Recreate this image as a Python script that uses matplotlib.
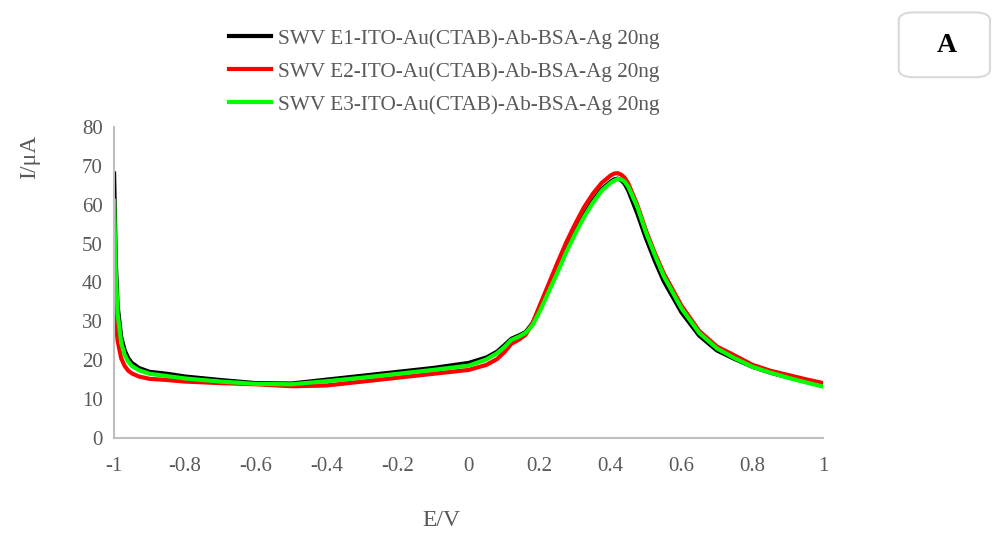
import matplotlib.pyplot as plt
import numpy as np
from matplotlib.patches import FancyBboxPatch

plt.rcParams['font.family'] = ['Liberation Serif', 'DejaVu Serif']

# potential (V), shared by the three scans
e_v = [-1.0, -0.995, -0.99, -0.98, -0.97, -0.96, -0.95, -0.93, -0.9, -0.85, -0.8, -0.7, -0.6, -0.5, -0.4, -0.3,
       -0.2, -0.1, 0.0, 0.05, 0.08, 0.1, 0.12, 0.14, 0.16, 0.18, 0.2, 0.225, 0.25, 0.275, 0.3, 0.325, 0.35,
       0.375, 0.4, 0.41, 0.42, 0.43, 0.44, 0.45, 0.475, 0.5, 0.525, 0.55, 0.6, 0.65, 0.7, 0.75, 0.8, 0.85,
       0.9, 0.95, 1.0]

# currents (uA)
i_e1 = [68, 45, 34, 26, 22.5, 20.5, 19.3, 18, 17, 16.5, 15.8, 14.9, 14.1, 14.0, 15.0, 16.0,
        17.0, 18.0, 19.3, 20.7, 22.2, 23.8, 25.5, 26.3, 27.2, 29.5, 33.5, 38.5, 43.5, 48.5, 53, 57.3, 61,
        64, 65.9, 66.5, 66.7, 66.3, 65.3, 63.6, 57.8, 51.3, 45.5, 40.3, 32.3, 26.3, 22.5, 20.3, 18.3, 16.8,
        15.6, 14.5, 13.5]
i_e2 = [36, 30, 25, 20.5, 18.5, 17.3, 16.6, 15.8, 15.2, 14.9, 14.5, 14.1, 13.8, 13.3, 13.5, 14.5,
        15.5, 16.5, 17.5, 18.8, 20.3, 22, 24.2, 25.2, 26.5, 29.5, 34, 39.5, 45, 50.3, 55, 59.3, 62.8,
        65.6, 67.5, 68, 68.1, 67.7, 66.9, 65.4, 60, 53.3, 47.5, 42.3, 34, 27.5, 23.5, 21.2, 18.8, 17.3,
        16.2, 15.1, 14.1]
i_e3 = [61, 42, 32, 24.5, 21.3, 19.6, 18.5, 17.4, 16.5, 15.9, 15.3, 14.5, 13.9, 13.8, 14.6, 15.5,
        16.5, 17.5, 18.6, 20.2, 21.8, 23.3, 25.2, 26.0, 27.0, 29.0, 32.5, 37.5, 42.5, 47.8, 52.5, 56.8, 60.5,
        63.6, 65.6, 66.2, 66.6, 66.5, 65.9, 64.6, 59.5, 52.8, 47, 41.6, 33.3, 27, 23, 20.5, 18.3, 16.8,
        15.5, 14.3, 13.2]

labels = ["SWV E1-ITO-Au(CTAB)-Ab-BSA-Ag 20ng",
          "SWV E2-ITO-Au(CTAB)-Ab-BSA-Ag 20ng",
          "SWV E3-ITO-Au(CTAB)-Ab-BSA-Ag 20ng"]

fig = plt.figure(figsize=(9.92, 5.4), dpi=100)
ax = fig.add_axes([0.115, 0.189, 0.715, 0.576])

ax.plot(e_v, i_e1, color='black', lw=3, label=labels[0], solid_joinstyle='round')
ax.plot(e_v, i_e2, color='#ff0000', lw=3, label=labels[1], solid_joinstyle='round')
ax.plot(e_v, i_e3, color='#00ff00', lw=3, label=labels[2], solid_joinstyle='round')

ax.set_xlim(-1, 1)
ax.set_ylim(0, 80)
ax.set_xticks(np.arange(-1, 1.01, 0.2))
ax.set_xticklabels(['-1', '-0.8', '-0.6', '-0.4', '-0.2', '0', '0.2', '0.4', '0.6', '0.8', '1'])
ax.set_yticks(range(0, 81, 10))
for s in ['top', 'right']:
    ax.spines[s].set_visible(False)
for s in ['left', 'bottom']:
    ax.spines[s].set_color('#bfbfbf')
    ax.spines[s].set_linewidth(1.5)
ax.tick_params(length=0, labelsize=15, labelcolor='#595959', pad=14)
ax.tick_params(axis='y', pad=8)

fig.text(0.445, 0.025, 'E/V', fontsize=17, color='#595959', ha='center')
fig.text(0.03, 0.71, 'I/μA', fontsize=17, color='#595959', rotation=90, ha='center', va='center')

leg = fig.legend(loc='upper left', bbox_to_anchor=(0.222, 0.962), frameon=False, fontsize=15.3,
                 handlelength=2.0, handletextpad=0.33, labelspacing=0.61, borderaxespad=0)
for t in leg.get_texts():
    t.set_color('#595959')

box = FancyBboxPatch((0.906, 0.857), 0.092, 0.12, boxstyle='round,pad=0,rounding_size=0.015',
                     transform=fig.transFigure, facecolor='white', edgecolor='#d9d9d9', lw=1.5)
fig.patches.append(box)
fig.text(0.954, 0.915, 'A', fontsize=20, fontweight='bold', ha='center', va='center')

fig.savefig('out.png')
